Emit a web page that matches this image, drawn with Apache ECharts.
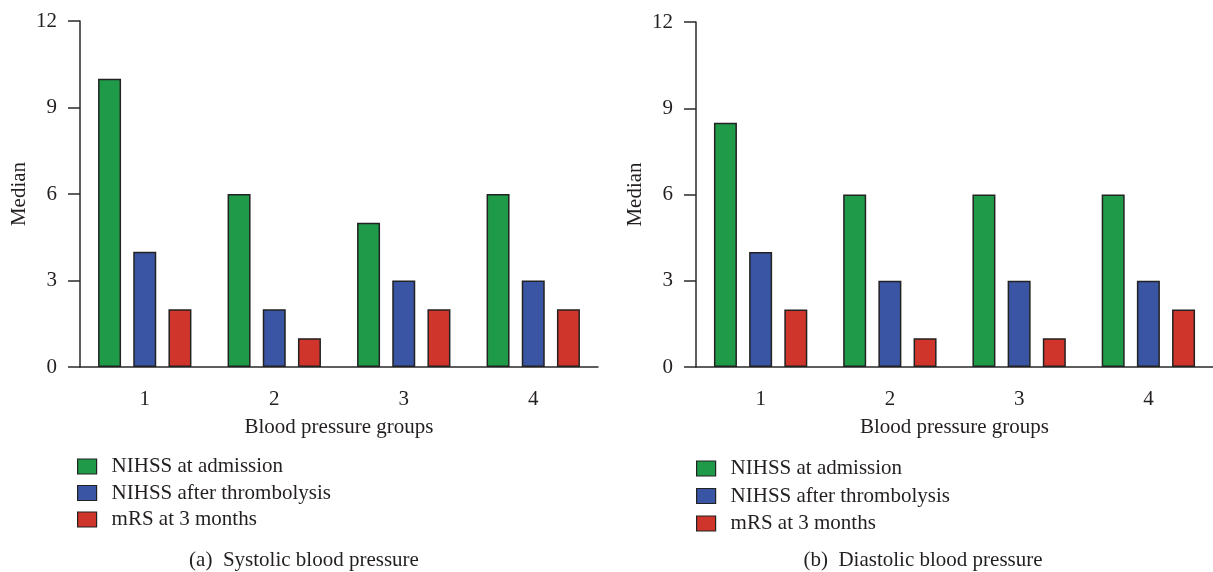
<!DOCTYPE html>
<html>
<head>
<meta charset="utf-8">
<script src="https://cdn.jsdelivr.net/npm/echarts@6/dist/echarts.min.js"></script>
<style>
html,body{margin:0;padding:0;background:#fff;}
#chart{width:1213px;height:572px;}
</style>
</head>
<body>
<div id="chart"></div>
<script>
const categories = ['1', '2', '3', '4'];
const seriesNames = ['NIHSS at admission', 'NIHSS after thrombolysis', 'mRS at 3 months'];
const yTicks = [0, 3, 6, 9, 12];
// (a) Systolic blood pressure
const sysAdmission = [10, 6, 5, 6];
const sysThrombolysis = [4, 2, 3, 3];
const sysMrs = [2, 1, 2, 2];
// (b) Diastolic blood pressure
const diaAdmission = [8.5, 6, 6, 6];
const diaThrombolysis = [4, 3, 3, 3];
const diaMrs = [2, 1, 1, 2];
const captions = ['(a)  Systolic blood pressure', '(b)  Diastolic blood pressure'];

const colors = ['#1f9a48', '#3a55a3', '#d0352b'];
const FONT = 'Liberation Serif';
const TXT = '#231f20';
const LINE = '#2a2a2a';

const chart = echarts.init(document.getElementById('chart'), null, {renderer: 'canvas'});

function xAxis(gi) {
  return {
    type: 'category', gridIndex: gi, data: categories,
    name: 'Blood pressure groups', nameLocation: 'middle', nameGap: 50,
    nameTextStyle: {fontFamily: FONT, fontSize: 21, color: TXT},
    axisLine: {lineStyle: {color: LINE, width: 1.5}},
    axisTick: {alignWithLabel: true, length: 11, lineStyle: {color: LINE, width: 1.5}},
    axisLabel: {fontFamily: FONT, fontSize: 21, color: TXT, margin: 22}
  };
}
function yAxis(gi) {
  return {
    type: 'value', gridIndex: gi, min: yTicks[0], max: yTicks[yTicks.length - 1], interval: 3,
    name: 'Median', nameLocation: 'middle', nameGap: 50, nameRotate: 90,
    nameTextStyle: {fontFamily: FONT, fontSize: 21, color: TXT},
    axisLine: {show: true, lineStyle: {color: LINE, width: 1.5}},
    axisTick: {show: true, length: 12, lineStyle: {color: LINE, width: 1.5}},
    axisLabel: {fontFamily: FONT, fontSize: 21, color: TXT, margin: 23},
    splitLine: {show: false}
  };
}
function bar(name, data, idx, gi) {
  return {
    type: 'bar', name: name, data: data, xAxisIndex: gi, yAxisIndex: gi,
    barWidth: 23, barGap: '53%',
    itemStyle: {color: colors[idx], borderColor: '#222', borderWidth: 1.5},
    emphasis: {disabled: true}
  };
}
function legend(left, top, gap) {
  return {
    orient: 'vertical', left: left, top: top, padding: 0, itemGap: gap,
    itemWidth: 19, itemHeight: 15, data: seriesNames, selectedMode: false,
    icon: 'rect',
    itemStyle: {borderColor: '#222', borderWidth: 1.2},
    textStyle: {fontFamily: FONT, fontSize: 21, color: TXT, lineHeight: 20, padding: [0, 0, 0, 10]}
  };
}

chart.setOption({
  animation: false,
  grid: [
    {left: 80, top: 21, width: 518, bottom: 205},
    {left: 696, top: 22, width: 518, bottom: 205}
  ],
  xAxis: [xAxis(0), xAxis(1)],
  yAxis: [yAxis(0), yAxis(1)],
  legend: [legend(77, 456, 5.5), legend(696, 458, 6.5)],
  series: [
    bar(seriesNames[0], sysAdmission, 0, 0),
    bar(seriesNames[1], sysThrombolysis, 1, 0),
    bar(seriesNames[2], sysMrs, 2, 0),
    bar(seriesNames[0], diaAdmission, 0, 1),
    bar(seriesNames[1], diaThrombolysis, 1, 1),
    bar(seriesNames[2], diaMrs, 2, 1)
  ],
  graphic: [
    {type: 'text', x: 304, y: 560, style: {text: captions[0], fontFamily: FONT, fontSize: 21, fill: TXT, textAlign: 'center', textVerticalAlign: 'middle'}},
    {type: 'text', x: 923, y: 560, style: {text: captions[1], fontFamily: FONT, fontSize: 21, fill: TXT, textAlign: 'center', textVerticalAlign: 'middle'}}
  ]
});
</script>
</body>
</html>
